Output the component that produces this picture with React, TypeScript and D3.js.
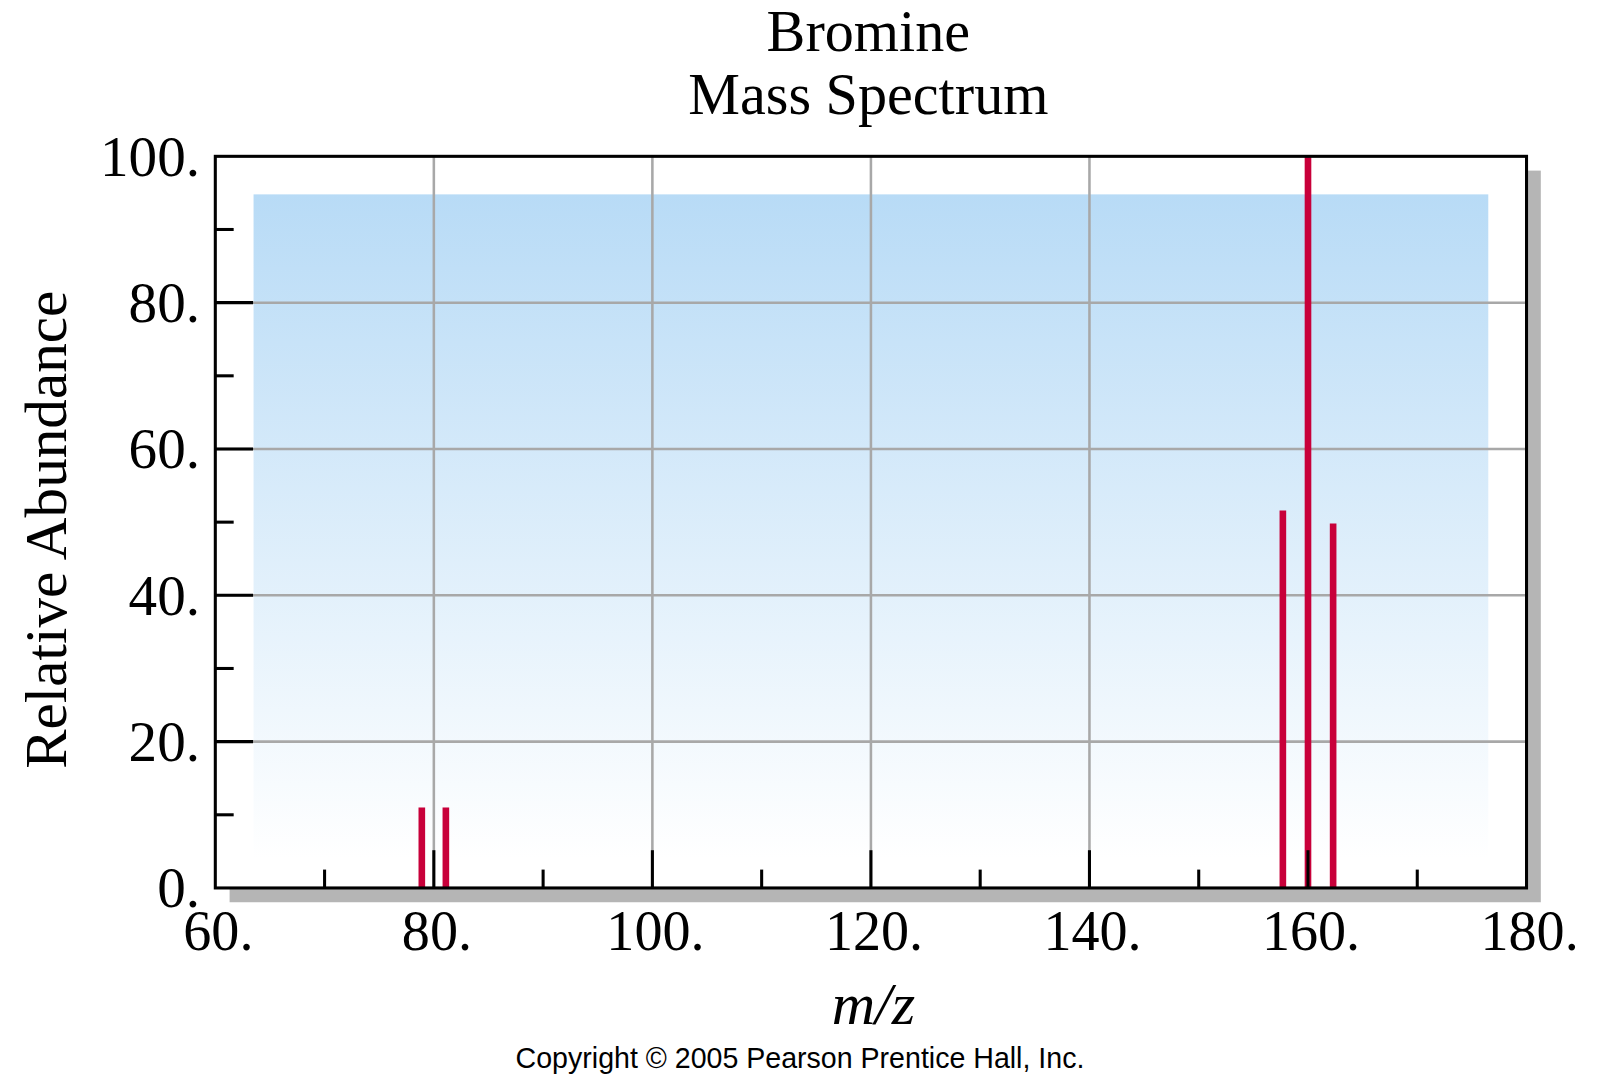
import { useEffect, useRef } from "react";
import * as d3 from "d3";

// m/z positions
const massCharge = [78.9, 81.1, 157.7, 160, 162.3];
const abundance = [11, 11, 51.6, 100, 49.8];
const xTicks = [60, 80, 100, 120, 140, 160, 180];
const xMinor = [70, 90, 110, 130, 150, 170];
const yTicks = [0, 20, 40, 60, 80, 100];
const yMinor = [10, 30, 50, 70, 90];

export default function App() {
  const ref = useRef<SVGSVGElement>(null);
  useEffect(() => {
    if (!ref.current) return;
    const svg = d3.select(ref.current);
    svg.selectAll("*").remove();
    const W = 1568, H = 1058;
    const m = { l: 211, r: 1496, t: 153, b: 870 };
    svg.attr("viewBox", `0 0 ${W} ${H}`);
    const x = d3.scaleLinear([60, 180], [m.l, m.r]);
    const y = d3.scaleLinear([0, 100], [m.b, m.t]);
    const serif = "'Liberation Serif', 'Times New Roman', serif";

    // shadow + frame background
    svg.append("rect").attr("x", m.l + 14).attr("y", m.t + 14)
      .attr("width", m.r - m.l).attr("height", m.b - m.t).attr("fill", "#b5b5b5");
    svg.append("rect").attr("x", m.l).attr("y", m.t)
      .attr("width", m.r - m.l).attr("height", m.b - m.t).attr("fill", "#fff");

    const grad = svg.append("defs").append("linearGradient").attr("id", "bg")
      .attr("x1", 0).attr("x2", 0).attr("y1", 0).attr("y2", 1);
    grad.append("stop").attr("offset", "0%").attr("stop-color", "#b8dbf6");
    grad.append("stop").attr("offset", "100%").attr("stop-color", "#ffffff");
    svg.append("rect").attr("x", x(63.5)).attr("y", y(94.8))
      .attr("width", x(176.5) - x(63.5)).attr("height", y(4) - y(94.8))
      .attr("fill", "url(#bg)");

    // grid
    xTicks.slice(1, -1).forEach((v) => {
      svg.append("line").attr("x1", x(v)).attr("x2", x(v)).attr("y1", m.t).attr("y2", m.b)
        .attr("stroke", "#a8a8a8").attr("stroke-width", 2.5);
    });
    yTicks.slice(1, -1).forEach((v) => {
      svg.append("line").attr("x1", m.l).attr("x2", m.r).attr("y1", y(v)).attr("y2", y(v))
        .attr("stroke", "#a8a8a8").attr("stroke-width", 2.5);
    });

    // peaks
    massCharge.forEach((mz, i) => {
      svg.append("line").attr("x1", x(mz)).attr("x2", x(mz))
        .attr("y1", y(0)).attr("y2", y(abundance[i]))
        .attr("stroke", "#c8003a").attr("stroke-width", 6.5);
    });

    // ticks
    xTicks.slice(1, -1).forEach((v) => {
      svg.append("line").attr("x1", x(v)).attr("x2", x(v)).attr("y1", m.b).attr("y2", m.b - 37)
        .attr("stroke", "#000").attr("stroke-width", 3);
    });
    xMinor.forEach((v) => {
      svg.append("line").attr("x1", x(v)).attr("x2", x(v)).attr("y1", m.b).attr("y2", m.b - 18)
        .attr("stroke", "#000").attr("stroke-width", 3);
    });
    yTicks.slice(1, -1).forEach((v) => {
      svg.append("line").attr("x1", m.l).attr("x2", m.l + 37).attr("y1", y(v)).attr("y2", y(v))
        .attr("stroke", "#000").attr("stroke-width", 3);
    });
    yMinor.forEach((v) => {
      svg.append("line").attr("x1", m.l).attr("x2", m.l + 18).attr("y1", y(v)).attr("y2", y(v))
        .attr("stroke", "#000").attr("stroke-width", 3);
    });

    svg.append("rect").attr("x", m.l).attr("y", m.t)
      .attr("width", m.r - m.l).attr("height", m.b - m.t)
      .attr("fill", "none").attr("stroke", "#000").attr("stroke-width", 3);

    // tick labels
    xTicks.forEach((v) => {
      svg.append("text").attr("x", x(v) + 3).attr("y", 931)
        .attr("text-anchor", "middle").attr("font-family", serif).attr("font-size", 55)
        .text(v + ".");
    });
    yTicks.forEach((v) => {
      svg.append("text").attr("x", m.l - 15).attr("y", y(v) + 19)
        .attr("text-anchor", "end").attr("font-family", serif).attr("font-size", 56)
        .text(v + ".");
    });

    // titles
    svg.append("text").attr("x", 851).attr("y", 50).attr("text-anchor", "middle")
      .attr("font-family", serif).attr("font-size", 57).text("Bromine");
    svg.append("text").attr("x", 851).attr("y", 112).attr("text-anchor", "middle")
      .attr("font-family", serif).attr("font-size", 57).text("Mass Spectrum");
    svg.append("text").attr("transform", `translate(65, 519) rotate(-90)`)
      .attr("text-anchor", "middle").attr("font-family", serif).attr("font-size", 58)
      .text("Relative Abundance");
    svg.append("text").attr("x", 856).attr("y", 1003).attr("text-anchor", "middle")
      .attr("font-family", serif).attr("font-size", 59).attr("font-style", "italic").text("m/z");
    svg.append("text").attr("x", 784).attr("y", 1046).attr("text-anchor", "middle")
      .attr("font-family", "'Liberation Sans', Arial, sans-serif").attr("font-size", 28)
      .text("Copyright © 2005 Pearson Prentice Hall, Inc.");
  }, []);
  return (
    <svg ref={ref} width={1600} height={1080}
      style={{ position: "absolute", left: 0, top: 0, background: "#fff" }} />
  );
}
